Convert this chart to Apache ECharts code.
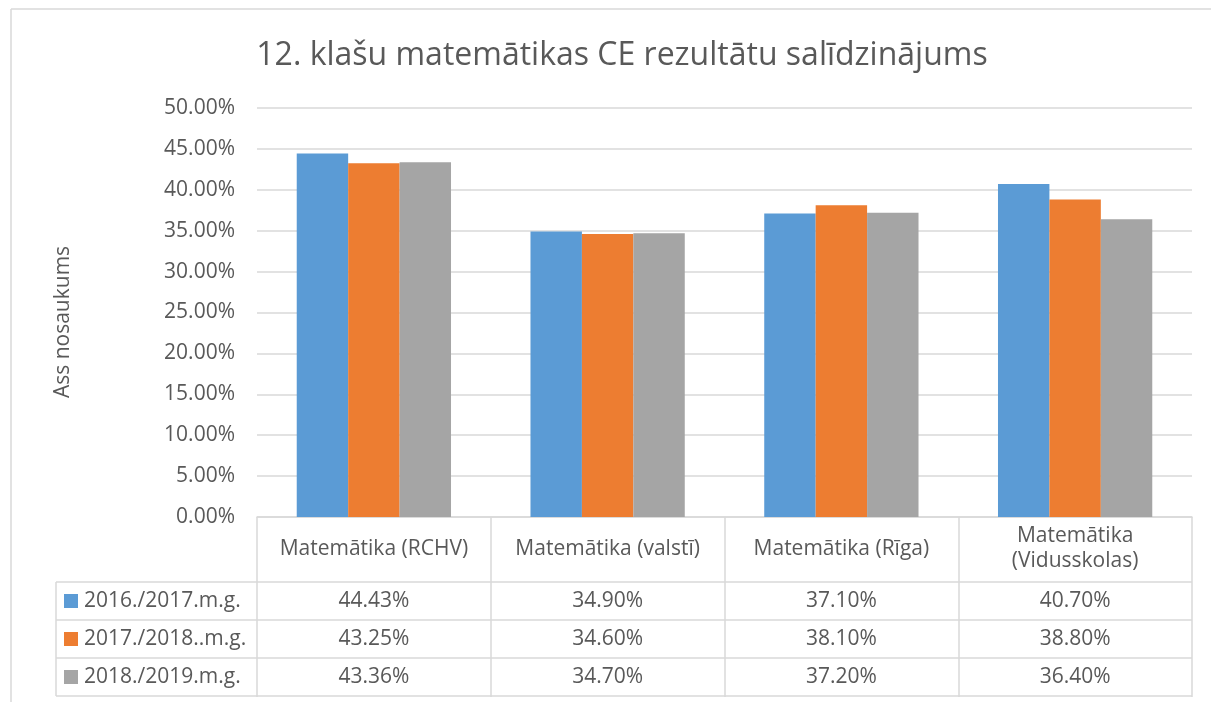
<!DOCTYPE html>
<html>
<head>
<meta charset="utf-8">
<script src="https://cdn.jsdelivr.net/npm/echarts@6/dist/echarts.min.js"></script>
<style>
  html, body { margin: 0; padding: 0; background: #fff; }
  #main { width: 1211px; height: 702px; }
</style>
</head>
<body>
<div id="main"></div>
<script>
var categories = ['Matemātika (RCHV)', 'Matemātika (valstī)', 'Matemātika (Rīga)', 'Matemātika\n(Vidusskolas)'];
var seriesNames = ['2016./2017.m.g.', '2017./2018..m.g.', '2018./2019.m.g.'];
var values2016 = [44.43, 34.90, 37.10, 40.70];
var values2017 = [43.25, 34.60, 38.10, 38.80];
var values2018 = [43.36, 34.70, 37.20, 36.40];
var colors = ['#5b9bd5', '#ed7d31', '#a5a5a5'];

var font = 'Open Sans';
var textColor = '#595959';
var lineColor = '#d9d9d9';
var allValues = [values2016, values2017, values2018];

var myChart = echarts.init(document.getElementById('main'));

function pct(v) {
  return v.toFixed(2) + '%';
}

var series = [];
for (var i = 0; i < seriesNames.length; i++) {
  series.push({
    name: seriesNames[i],
    type: 'bar',
    data: allValues[i],
    barGap: '0%',
    barCategoryGap: '34%',
    itemStyle: { color: colors[i] }
  });
}

var option = {
  animation: false,
  textStyle: { fontFamily: font },
  title: {
    text: '12. klašu matemātikas CE rezultātu salīdzinājums',
    left: 617,
    top: 35,
    textAlign: 'center',
    textStyle: { fontFamily: font, fontSize: 32, fontWeight: 'normal', color: textColor }
  },
  grid: { left: 257, right: 19, top: 108, bottom: 185, containLabel: false, outerBoundsMode: 'none' },
  xAxis: {
    type: 'category',
    data: categories,
    axisLine: { lineStyle: { color: lineColor, width: 1.5 } },
    axisTick: { show: true, interval: 0, length: 180, lineStyle: { color: lineColor, width: 1.5 } },
    axisLabel: { interval: 0, margin: 32, verticalAlign: 'middle', color: textColor, fontSize: 21, lineHeight: 25, fontFamily: font }
  },
  yAxis: {
    type: 'value',
    min: 0,
    max: 50,
    interval: 5,
    axisLine: { show: false },
    axisTick: { show: false },
    axisLabel: { formatter: function (v) { return pct(v); }, color: textColor, fontSize: 21, margin: 22, fontFamily: font },
    splitLine: { lineStyle: { color: lineColor, width: 1.5 } }
  },
  series: series
};

myChart.setOption(option);

// data table below the axis, frame and axis title
function buildTable() {
  var rowTop = 582, rowH = 38, left = 56;
  var step = myChart.convertToPixel({ xAxisIndex: 0 }, 1) - myChart.convertToPixel({ xAxisIndex: 0 }, 0);
  var right = myChart.convertToPixel({ xAxisIndex: 0 }, categories.length - 1) + step / 2;
  var els = [];
  els.push({ type: 'line', shape: { x1: 11, y1: 9, x2: 1211, y2: 9 }, style: { stroke: lineColor, lineWidth: 1.5 } });
  els.push({ type: 'line', shape: { x1: 11, y1: 9, x2: 11, y2: 702 }, style: { stroke: lineColor, lineWidth: 1.5 } });
  els.push({ type: 'text', right: 6, top: -17, style: { text: '4. attēls', fontSize: 20, fill: '#404040', fontFamily: font } });
  els.push({ type: 'text', x: 63, y: 322, rotation: Math.PI / 2, style: { text: 'Ass nosaukums', fill: textColor, fontSize: 21, fontFamily: font, align: 'center', verticalAlign: 'middle' } });
  for (var r = 0; r <= seriesNames.length; r++) {
    var y = rowTop + r * rowH;
    els.push({ type: 'line', shape: { x1: left, y1: y, x2: right, y2: y }, style: { stroke: lineColor, lineWidth: 1.5 } });
  }
  els.push({ type: 'line', shape: { x1: left, y1: rowTop, x2: left, y2: rowTop + rowH * seriesNames.length }, style: { stroke: lineColor, lineWidth: 1.5 } });
  for (var s = 0; s < seriesNames.length; s++) {
    var cy = rowTop + s * rowH + rowH / 2;
    els.push({ type: 'rect', shape: { x: 64, y: cy - 7, width: 14, height: 14 }, style: { fill: colors[s] } });
    els.push({ type: 'text', x: 84, y: cy, style: { text: seriesNames[s], fill: textColor, fontSize: 21, fontFamily: font, verticalAlign: 'middle', align: 'left' } });
    for (var c = 0; c < categories.length; c++) {
      var cx = myChart.convertToPixel({ xAxisIndex: 0 }, c);
      els.push({ type: 'text', x: cx, y: cy, style: { text: pct(allValues[s][c]), fill: textColor, fontSize: 21, fontFamily: font, verticalAlign: 'middle', align: 'center' } });
    }
  }
  myChart.setOption({ graphic: els });
}
buildTable();
</script>
</body>
</html>
